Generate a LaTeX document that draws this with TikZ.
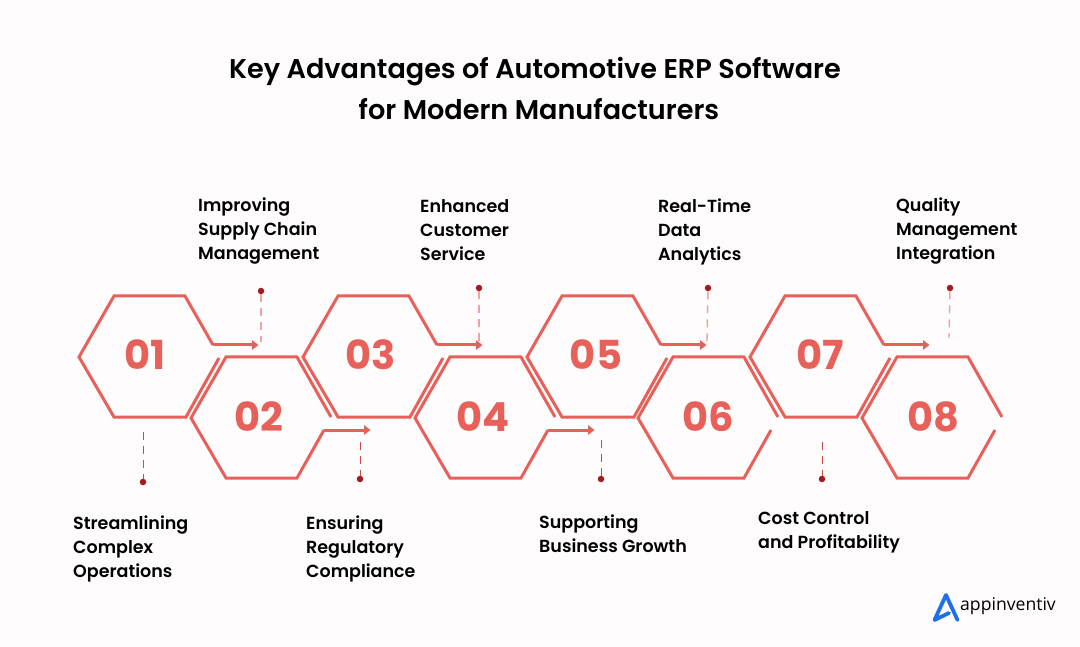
\documentclass[tikz,border=0pt]{standalone}
\usepackage{fontspec}
\setmainfont{Poppins}[BoldFont=Poppins SemiBold]
\newfontfamily\numfont{Poppins}[BoldFont=Poppins Bold]
\newfontfamily\logofont{Open Sans}
\usetikzlibrary{arrows.meta}
\definecolor{hexred}{HTML}{E8605A}
\definecolor{dotred}{HTML}{A31A1F}
\definecolor{dashlight}{HTML}{EDA3A1}
\definecolor{dashdark}{HTML}{D2474A}
\definecolor{bgpink}{HTML}{FFFCFD}
\definecolor{logoblue}{HTML}{1F6FEB}
\tikzset{
 x=1pt,y=-1pt,
 hexline/.style={draw=hexred,line width=3pt,line join=miter,line cap=butt},
 arrowline/.style={draw=hexred,line width=3pt,-{Triangle[length=6.5pt,width=9.5pt]}},
 num/.style={text=hexred,font=\numfont\fontsize{40}{40}\selectfont\bfseries,inner sep=0pt,anchor=center},
 lab/.style={text=black,font=\fontsize{17.5}{24}\selectfont\bfseries,align=left,anchor=north west,inner sep=0pt},
 ttl/.style={text=black,font=\fontsize{27.1}{41}\selectfont\bfseries,align=center,inner sep=0pt},
 dotn/.style={circle,fill=dotred,inner sep=0pt,minimum size=6.5pt},
 dashtop/.style={draw=dashlight,line width=1.4pt,dash pattern=on 8pt off 6pt},
 dashbot/.style={draw=dashdark,line width=1pt,dash pattern=on 8pt off 6pt},
}
% upper hexagon: left vertex x = #1, centre of number x = #4
\newcommand{\upperhex}[4]{%
 \draw[hexline] (#1+134,345) -- (#1+106,296) -- (#1+35,296) -- (#1,357) -- (#1+35,417) -- (#1+107,417) -- (#1+140,358);
 \coordinate (#2s) at (#1+134,345);
 \coordinate (#2e) at (#1+179.5,345);
 \draw[arrowline] (#2s) -- (#2e);
 \node[num] (#2) at (#4,355) {#3};
}
% lower hexagon: left vertex x = #1, centre of number x = #4
\newcommand{\lowerhex}[4]{%
 \draw[hexline] (#1+140,417) -- (#1+106,357) -- (#1+35,357) -- (#1,418) -- (#1+35,478) -- (#1+106,478) -- (#1+133,430);
 \node[num] (#2) at (#4,417) {#3};
}
\newcommand{\lowerarrow}[2]{%
 \coordinate (#2s) at (#1+133,430);
 \coordinate (#2e) at (#1+179.5,430);
 \draw[arrowline] (#2s) -- (#2e);
}
\begin{document}
\begin{tikzpicture}
\fill[bgpink] (0,0) rectangle (1080,647);
\useasboundingbox (0,0) rectangle (1080,647);
\node[ttl] (title) at (535,89) {Key Advantages of Automotive ERP Software\\\hspace*{8pt}for Modern Manufacturers};

\upperhex{79}{h1}{01}{145}
\lowerhex{191}{h2}{02}{259}
\lowerarrow{191}{h2}
\upperhex{303}{h3}{03}{371}
\lowerhex{415}{h4}{04}{483}
\lowerarrow{415}{h4}
\upperhex{527}{h5}{05}{596}
\lowerhex{638}{h6}{06}{708}
\upperhex{750}{h7}{07}{820}
\lowerhex{862}{h8}{08}{933}

\node[lab] (l1) at (73,516) {Streamlining\\Complex\\Operations};
\node[lab] (l2) at (198,198) {Improving\\Supply Chain\\Management};
\node[lab] (l3) at (306,516) {Ensuring\\Regulatory\\Compliance};
\node[lab] (l4) at (420,199) {Enhanced\\Customer\\Service};
\node[lab] (l5) at (539,515) {Supporting\\Business Growth};
\node[lab] (l6) at (658,199) {Real-Time\\Data\\Analytics};
\node[lab] (l7) at (758,511) {Cost Control\\and Profitability};
\node[lab] (l8) at (896,198) {Quality\\Management\\Integration};

\node[dotn] (d1) at (143,482) {};
\node[dotn] (d2) at (261,291) {};
\node[dotn] (d3) at (360,479) {};
\node[dotn] (d4) at (479,288) {};
\node[dotn] (d5) at (601,479) {};
\node[dotn] (d6) at (708,288) {};
\node[dotn] (d7) at (822,479) {};
\node[dotn] (d8) at (950,288) {};
\coordinate (e1) at (143,432);
\coordinate (e2) at (261,342);
\coordinate (e3) at (360,442);
\coordinate (e4) at (479,342);
\coordinate (e5) at (601,440);
\coordinate (e6) at (707,342);
\coordinate (e7) at (822,442);
\coordinate (e8) at (949,338);
\foreach \i in {2,4,6,8} \draw[dashtop] (d\i) -- (e\i);
\foreach \i in {1,3,5,7} \draw[dashbot] (e\i) -- (d\i);

\draw[logoblue,line width=3.8pt,line cap=round,line join=round] (957.5,620) -- (946,595) -- (934.5,620) -- (949,613);
\node[text=black,font=\logofont\fontsize{17.6}{18}\selectfont,inner sep=0pt,anchor=west] (logo) at (960,606) {appinventiv};
\end{tikzpicture}
\end{document}
